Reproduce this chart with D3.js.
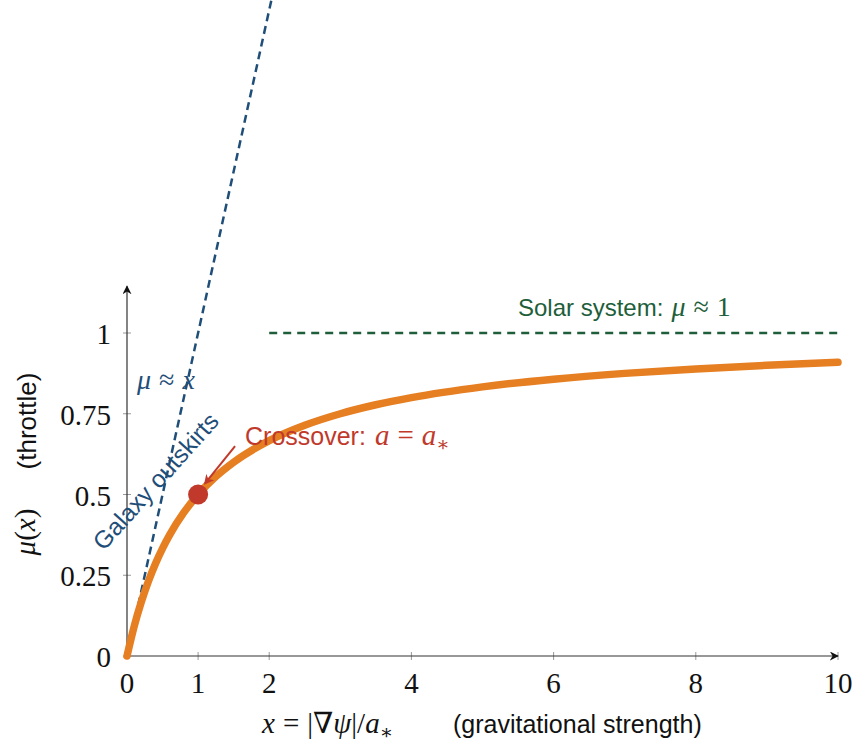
<!DOCTYPE html>
<html>
<head>
<meta charset="utf-8">
<script src="https://cdn.jsdelivr.net/npm/d3@7/dist/d3.min.js"></script>
<style>
  html, body { margin: 0; padding: 0; background: #fff; }
  svg { display: block; }
  .math { font-family: "Liberation Serif", "DejaVu Serif", serif; }
  .sans { font-family: "Liberation Sans", Arial, sans-serif; }
</style>
</head>
<body>
<svg id="chart" width="856" height="744"></svg>
<script>
// Throttle curve mu(x) = x / (1 + x), sampled
const curveX  = [0, 0.1, 0.2, 0.3, 0.4, 0.5, 0.6, 0.8, 1, 1.25, 1.5, 2, 2.5, 3, 3.5, 4, 5, 6, 7, 8, 9, 10];
const curveMu = [0, 0.0909, 0.1667, 0.2308, 0.2857, 0.3333, 0.375, 0.4444, 0.5, 0.5556, 0.6, 0.6667, 0.7143, 0.75, 0.7778, 0.8, 0.8333, 0.8571, 0.875, 0.8889, 0.9, 0.9091];

// Low-acceleration asymptote mu ≈ x
const linearX  = [0, 2.03];
const linearMu = [0, 2.03];

// High-acceleration limit mu ≈ 1
const solarX  = [2, 10];
const solarMu = [1, 1];

// Crossover point
const crossX = [1];
const crossMu = [0.5];

const xTicks = [0, 1, 2, 4, 6, 8, 10];
const yTicks = [0, 0.25, 0.5, 0.75, 1];
const yTickLabels = ["0", "0.25", "0.5", "0.75", "1"];

const svg = d3.select("#chart");

const x = d3.scaleLinear().domain([0, 10]).range([127, 838]);
const y = d3.scaleLinear().domain([0, 1]).range([656, 333]);

const orange = "#e67e22";
const blue = "#1f4e79";
const green = "#1e5e3b";
const red = "#c0392b";
const ink = "#111";

const defs = svg.append("defs");
defs.append("clipPath").attr("id", "clip")
  .append("rect").attr("x", 0).attr("y", 0).attr("width", 856).attr("height", 744);
defs.append("marker")
  .attr("id", "arrow").attr("viewBox", "0 0 10 10").attr("refX", 9).attr("refY", 5)
  .attr("markerWidth", 9).attr("markerHeight", 9).attr("markerUnits", "userSpaceOnUse")
  .attr("orient", "auto")
  .append("path").attr("d", "M0,0 L10,5 L0,10 L3,5 Z").attr("fill", ink);
defs.append("marker")
  .attr("id", "redArrow").attr("viewBox", "0 0 10 10").attr("refX", 8).attr("refY", 5)
  .attr("markerWidth", 10).attr("markerHeight", 10).attr("markerUnits", "userSpaceOnUse")
  .attr("orient", "auto")
  .append("path").attr("d", "M0,0 L10,5 L0,10 L3,5 Z").attr("fill", red);

// Tick marks
svg.append("g").selectAll("line").data(yTicks).join("line")
  .attr("x1", x(0) - 4).attr("x2", x(0) + 4)
  .attr("y1", d => y(d)).attr("y2", d => y(d))
  .attr("stroke", "#999").attr("stroke-width", 1);
svg.append("g").selectAll("line").data(xTicks.filter(d => d > 0)).join("line")
  .attr("x1", d => x(d)).attr("x2", d => x(d))
  .attr("y1", y(0) - 4).attr("y2", y(0) + 4)
  .attr("stroke", "#999").attr("stroke-width", 1);

// Axis lines with arrow heads
svg.append("line")
  .attr("x1", x(0)).attr("y1", y(0)).attr("x2", x(10)).attr("y2", y(0))
  .attr("stroke", "#333").attr("stroke-width", 1.2)
  .attr("marker-end", "url(#arrow)");
svg.append("line")
  .attr("x1", x(0)).attr("y1", y(0)).attr("x2", x(0)).attr("y2", y(1.145))
  .attr("stroke", "#333").attr("stroke-width", 1.2)
  .attr("marker-end", "url(#arrow)");

// Tick labels
svg.append("g").selectAll("text").data(yTicks).join("text")
  .attr("class", "math")
  .attr("x", 111).attr("y", d => y(d) + 11)
  .attr("text-anchor", "end").attr("font-size", 29).attr("fill", ink)
  .text((d, i) => yTickLabels[i]);
svg.append("g").selectAll("text").data(xTicks).join("text")
  .attr("class", "math")
  .attr("x", d => x(d)).attr("y", 693)
  .attr("text-anchor", "middle").attr("font-size", 29).attr("fill", ink)
  .text(d => d);

// mu ≈ x dashed line
const line = d3.line().x(d => x(d[0])).y(d => y(d[1]));
svg.append("path")
  .attr("clip-path", "url(#clip)")
  .attr("d", line(linearX.map((v, i) => [v, linearMu[i]])))
  .attr("fill", "none").attr("stroke", blue).attr("stroke-width", 2.5)
  .attr("stroke-dasharray", "8,5");

// Solar system dashed line
svg.append("path")
  .attr("d", line(solarX.map((v, i) => [v, solarMu[i]])))
  .attr("fill", "none").attr("stroke", green).attr("stroke-width", 2.5)
  .attr("stroke-dasharray", "8,6");

// Main curve
svg.append("path")
  .attr("d", d3.line().curve(d3.curveMonotoneX).x(d => x(d[0])).y(d => y(d[1]))(curveX.map((v, i) => [v, curveMu[i]])))
  .attr("fill", "none").attr("stroke", orange).attr("stroke-width", 7.5)
  .attr("stroke-linecap", "round");

// Crossover point
svg.append("g").selectAll("circle").data(crossX).join("circle")
  .attr("cx", d => x(d)).attr("cy", (d, i) => y(crossMu[i])).attr("r", 10)
  .attr("fill", red);

// Arrow to crossover
svg.append("line")
  .attr("x1", x(1.52)).attr("y1", y(0.65))
  .attr("x2", x(1.1)).attr("y2", y(0.535))
  .attr("stroke", red).attr("stroke-width", 2)
  .attr("marker-end", "url(#redArrow)");

// Annotations
const crossLbl = svg.append("text").attr("x", 245).attr("y", 445).attr("fill", red);
crossLbl.append("tspan").attr("class", "sans").attr("font-size", 25).text("Crossover:");
crossLbl.append("tspan").attr("class", "math").attr("font-size", 29).attr("font-style", "italic").attr("dx", 9).text("a");
crossLbl.append("tspan").attr("class", "math").attr("font-size", 29).attr("dx", 8).text("=");
crossLbl.append("tspan").attr("class", "math").attr("font-size", 29).attr("font-style", "italic").attr("dx", 8).text("a");
crossLbl.append("tspan").attr("class", "math").attr("font-size", 20).attr("dy", 6).text("∗");

const solarLbl = svg.append("text").attr("x", 518).attr("y", 316).attr("fill", green);
solarLbl.append("tspan").attr("class", "sans").attr("font-size", 24).text("Solar system:");
solarLbl.append("tspan").attr("class", "math").attr("font-size", 28).attr("font-style", "italic").attr("dx", 8).text("μ");
solarLbl.append("tspan").attr("class", "math").attr("font-size", 28).attr("dx", 8).text("≈");
solarLbl.append("tspan").attr("class", "math").attr("font-size", 28).attr("dx", 8).text("1");

const muLbl = svg.append("text").attr("x", 137).attr("y", 389).attr("fill", blue).attr("font-size", 28).attr("class", "math");
muLbl.append("tspan").attr("font-style", "italic").text("μ");
muLbl.append("tspan").attr("dx", 8).text("≈");
muLbl.append("tspan").attr("dx", 8).attr("font-style", "italic").text("x");

svg.append("text")
  .attr("class", "sans").attr("fill", blue).attr("font-size", 24.5)
  .attr("text-anchor", "middle")
  .attr("transform", "translate(162,487) rotate(-48)")
  .text("Galaxy outskirts");

// Axis titles
const xt = svg.append("text").attr("x", 262).attr("y", 733).attr("fill", ink).attr("font-size", 29).attr("class", "math");
xt.append("tspan").attr("font-style", "italic").text("x");
xt.append("tspan").attr("dx", 8).text("=");
xt.append("tspan").attr("dx", 8).text("|∇");
xt.append("tspan").attr("font-style", "italic").text("ψ");
xt.append("tspan").text("|/");
xt.append("tspan").attr("font-style", "italic").text("a");
xt.append("tspan").attr("font-size", 20).attr("dy", 6).text("∗");
svg.append("text").attr("class", "sans").attr("x", 453).attr("y", 733)
  .attr("fill", ink).attr("font-size", 25).text("(gravitational strength)");

svg.append("text")
  .attr("class", "math")
  .attr("transform", "translate(35,532) rotate(-90)")
  .attr("text-anchor", "middle").attr("fill", ink).attr("font-size", 29)
  .call(t => {
    t.append("tspan").attr("font-style", "italic").text("μ");
    t.append("tspan").text("(");
    t.append("tspan").attr("font-style", "italic").text("x");
    t.append("tspan").text(")");
  });
svg.append("text")
  .attr("class", "sans")
  .attr("transform", "translate(36,421) rotate(-90)")
  .attr("text-anchor", "middle").attr("fill", ink).attr("font-size", 26)
  .text("(throttle)");
</script>
</body>
</html>
